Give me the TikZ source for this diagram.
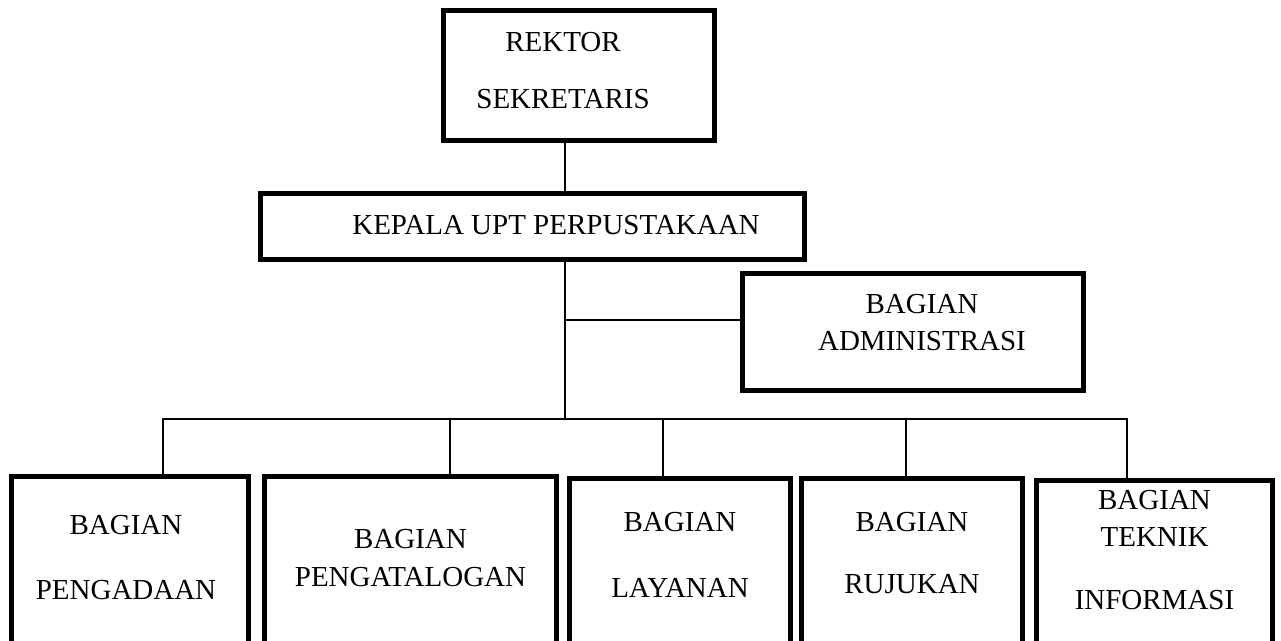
\documentclass[tikz,border=0pt]{standalone}
\usepackage{fontspec}
\setmainfont{Liberation Serif}
\usetikzlibrary{positioning}
\tikzstyle{unit} = [rectangle, draw=black, line width=0.1cm, inner sep=0pt,
font=\fontsize{16.5pt}{21.5pt}\selectfont]
\tikzstyle{link} = [line width=0.035cm]
% text of a box: x shift, raise, rows
\newcommand{\boxtext}[3]{\kern#1\raisebox{#2}[0pt][0pt]{\begin{tabular}{@{}c@{}}#3\end{tabular}}\kern-#1}

\begin{document}
\begin{tikzpicture}[x=0.02cm, y=-0.02cm]
        \useasboundingbox (0,0) rectangle (1281,641);
        \clip (0,0) rectangle (1281,641);

        \draw (579,75.5) node[unit, minimum width=5.42cm, minimum height=2.6cm] (rektor)
        {\boxtext{-0.32cm}{-0.09cm}{REKTOR\\[0.38cm]SEKRETARIS}};
        \draw (532.5,226.5) node[unit, minimum width=10.88cm, minimum height=1.32cm] (kepala)
        {\boxtext{0.47cm}{-0.16cm}{KEPALA UPT PERPUSTAKAAN}};
        \draw (913,332) node[unit, minimum width=6.82cm, minimum height=2.34cm] (admin)
        {\boxtext{0.18cm}{0cm}{BAGIAN\\ADMINISTRASI}};

        % bagian
        \draw (130,596.5) node[unit, minimum width=4.74cm, minimum height=4.8cm] (b1)
        {\boxtext{-0.08cm}{0.59cm}{BAGIAN\\[0.54cm]PENGADAAN}};
        \draw (410.5,596.5) node[unit, minimum width=5.84cm, minimum height=4.8cm] (b2)
        {\boxtext{0cm}{0.58cm}{BAGIAN\\PENGATALOGAN}};
        \draw (680,598.5) node[unit, minimum width=4.42cm, minimum height=4.8cm] (b3)
        {\boxtext{0cm}{0.68cm}{BAGIAN\\[0.56cm]LAYANAN}};
        \draw (912,598.5) node[unit, minimum width=4.42cm, minimum height=4.8cm] (b4)
        {\boxtext{0cm}{0.72cm}{BAGIAN\\[0.48cm]RUJUKAN}};
        \draw (1154.5,600.5) node[unit, minimum width=4.72cm, minimum height=4.8cm] (b5)
        {\boxtext{0cm}{0.82cm}{BAGIAN\\TEKNIK\\[0.5cm]INFORMASI}};

        % Lines
        \coordinate (trunk) at (565,419);
        \coordinate (tap) at (565,320);
        \foreach \x [count=\i] in {163,450,663,906,1127}
            \coordinate (d\i) at (\x,419);

        \draw[link] (rektor.south -| trunk) -- (kepala.north -| trunk);
        \draw[link] (kepala.south -| trunk) -- (trunk);
        \draw[link] (tap) -- (admin.west |- tap);
        \draw[link] (b1.north -| d1) -- (d1) -- (d5) -- (b5.north -| d5);
        \foreach \i in {2,3,4}
            \draw[link] (d\i) -- (b\i.north -| d\i);
    \end{tikzpicture}
\end{document}
